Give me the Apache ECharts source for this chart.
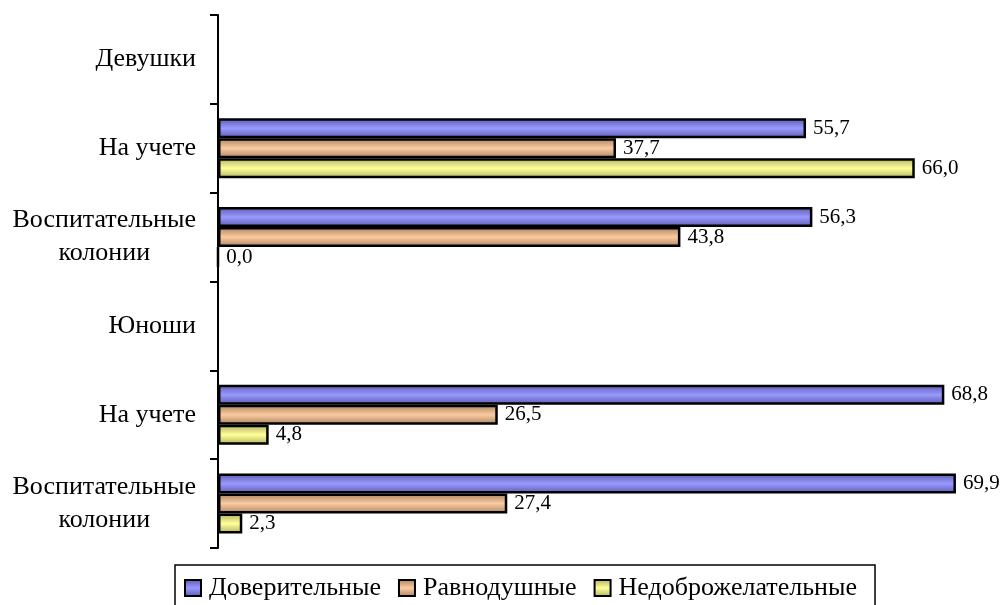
<!DOCTYPE html>
<html>
<head>
<meta charset="utf-8">
<script src="https://cdn.jsdelivr.net/npm/echarts@6/dist/echarts.min.js"></script>
<style>html,body{margin:0;padding:0;background:#fff}#c{width:1003px;height:605px}</style>
</head>
<body>
<div id="c"></div>
<script>
const categories = ['Девушки', 'На учете', 'Воспитательные\nколонии', 'Юноши', 'На учете', 'Воспитательные\nколонии'];
const seriesNames = ['Доверительные', 'Равнодушные', 'Недоброжелательные'];
const trusting = [null, 55.7, 56.3, null, 68.8, 69.9];
const indifferent = [null, 37.7, 43.8, null, 26.5, 27.4];
const hostile = [null, 66.0, 0.0, null, 4.8, 2.3];

const FONT = 'Liberation Serif';
function grad(edge, mid) {
  return new echarts.graphic.LinearGradient(0, 0, 0, 1, [
    {offset: 0, color: edge}, {offset: 0.5, color: mid}, {offset: 1, color: edge}
  ]);
}
const colors = [
  grad('#5a5ab0', '#9999ff'),
  grad('#a88260', '#fbcba0'),
  grad('#b0b060', '#ffff99')
];
const datas = [trusting, indifferent, hostile];

const chart = echarts.init(document.getElementById('c'));
chart.setOption({
  animation: false,
  backgroundColor: '#fff',
  grid: {left: 218, right: 46, top: 15, bottom: 57},
  xAxis: {type: 'value', min: 0, max: 70, show: false},
  yAxis: {
    type: 'category', inverse: true, data: categories,
    axisLine: {show: true, lineStyle: {color: '#000', width: 2}},
    axisTick: {show: true, length: 8, lineStyle: {color: '#000', width: 2}},
    axisLabel: {
      margin: 22, color: '#000', fontFamily: FONT, fontSize: 26, lineHeight: 33,
      formatter: function (v) {
        const parts = v.split('\n');
        return parts.map(p => '{c|' + p + '}').join('\n');
      },
      rich: {c: {align: 'center', fontFamily: FONT, fontSize: 26, lineHeight: 33, color: '#000'}}
    }
  },
  legend: {
    left: 175, top: 565, padding: [10, 18, 10, 9],
    borderColor: '#000', borderWidth: 1.5,
    itemWidth: 16, itemHeight: 16, itemGap: 17,
    icon: 'rect',
    textStyle: {fontFamily: FONT, fontSize: 26, color: '#000', padding: [0, 0, 0, 3]},
    data: seriesNames
  },
  series: seriesNames.map((n, i) => ({
    name: n, type: 'bar', data: datas[i],
    barWidth: 20, barGap: '0%',
    itemStyle: {color: colors[i], borderColor: '#000', borderWidth: 2.5},
    label: {
      show: true, position: 'right', distance: 7,
      fontFamily: FONT, fontSize: 21, color: '#000',
      formatter: p => p.value == null ? '' : p.value.toFixed(1).replace('.', ',')
    }
  }))
});
</script>
</body>
</html>
